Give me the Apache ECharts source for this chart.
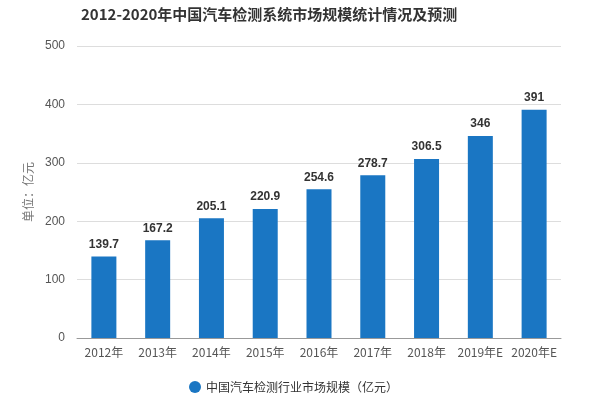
<!DOCTYPE html>
<html>
<head>
<meta charset="utf-8">
<script src="https://cdn.jsdelivr.net/npm/echarts@6/dist/echarts.min.js"></script>
<style>
  html, body { margin: 0; padding: 0; background: #fff; }
  #chart { width: 591px; height: 398px; }
</style>
</head>
<body>
<div id="chart"></div>
<script>
  // 年份
  var years = ['2012年', '2013年', '2014年', '2015年', '2016年', '2017年', '2018年', '2019年E', '2020年E']
  // 市场规模（亿元）
  var marketSize = [139.7, 167.2, 205.1, 220.9, 254.6, 278.7, 306.5, 346, 391]
  var seriesName = '中国汽车检测行业市场规模（亿元）'

  var chart = echarts.init(document.getElementById('chart'))
  var option = {
    title: {
      text: '2012-2020年中国汽车检测系统市场规模统计情况及预测',
      left: 76,
      top: 2,
      textStyle: { fontSize: 15, fontWeight: 'bold', color: '#333', fontFamily: 'Noto Sans CJK SC' }
    },
    legend: {
      left: 184,
      top: 376,
      icon: 'circle',
      itemWidth: 12,
      itemHeight: 12,
      textStyle: { fontSize: 12, color: '#333', fontFamily: 'Noto Sans CJK SC' }
    },
    grid: {
      left: 77,
      right: 30,
      top: 46,
      bottom: 60
    },
    xAxis: {
      type: 'category',
      data: years,
      axisLine: { lineStyle: { color: '#999' } },
      axisTick: { alignWithLabel: true, lineStyle: { color: '#999' } },
      axisLabel: { color: '#555', fontSize: 12, interval: 0, margin: 8, fontFamily: 'Noto Sans CJK SC' }
    },
    yAxis: {
      type: 'value',
      min: 0,
      max: 500,
      interval: 100,
      name: '单位：亿元',
      nameLocation: 'middle',
      nameRotate: 90,
      nameGap: 42,
      nameTextStyle: { color: '#777', fontSize: 12, fontFamily: 'Noto Sans CJK SC', padding: [0, 0, 0, 0] },
      axisLine: { show: false },
      axisTick: { show: false },
      axisLabel: { color: '#555', fontSize: 12, margin: 12 },
      splitLine: { lineStyle: { color: '#ddd' } }
    },
    series: [
      {
        name: seriesName,
        type: 'bar',
        data: marketSize,
        barWidth: 25,
        itemStyle: { color: '#1a76c3' },
        label: {
          show: true,
          position: 'top',
          distance: 6,
          color: '#333',
          fontWeight: 'bold',
          fontSize: 12
        }
      }
    ]
  }
  option && chart.setOption(option)
</script>
</body>
</html>
